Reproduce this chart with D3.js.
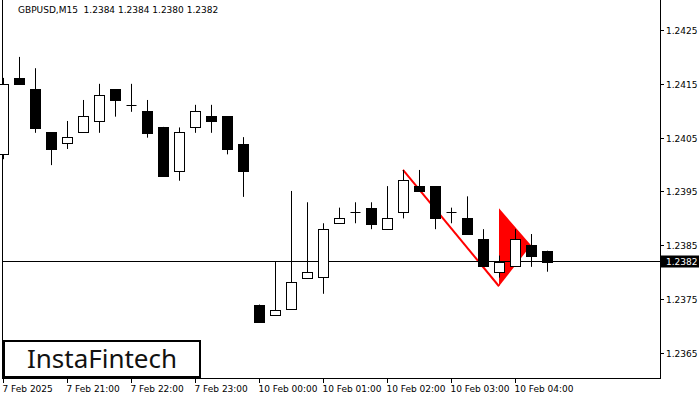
<!DOCTYPE html>
<html><head><meta charset="utf-8">
<script src="https://cdn.jsdelivr.net/npm/d3@7"></script>
<style>body{margin:0;background:#fff}svg{display:block}</style>
</head><body><svg width="700" height="400"></svg>
<script>
const opens  = [1.24020,1.24160,1.24140,1.24060,1.24039,1.24060,1.24080,1.24140,1.24111,1.24099,1.24070,1.23988,1.24069,1.24090,1.24090,1.24039,
                1.23740,1.23721,1.23730,1.23790,1.23790,1.23891,1.23910,1.23920,1.23880,1.23911,1.23960,1.23960,1.23911,1.23900,1.23861,1.23801,1.23810,1.23850,1.23840];
const closes = [1.24150,1.24149,1.24068,1.24029,1.24051,1.24090,1.24129,1.24119,1.24111,1.24059,1.23979,1.24060,1.24099,1.24080,1.24029,1.23989,
                1.23709,1.23730,1.23781,1.23801,1.23880,1.23900,1.23911,1.23891,1.23900,1.23971,1.23950,1.23900,1.23910,1.23870,1.23810,1.23819,1.23861,1.23830,1.23820];
const highs  = [1.24161,1.24200,1.24179,1.24060,1.24081,1.24120,1.24150,1.24140,1.24150,1.24120,1.24070,1.24069,1.24111,1.24111,1.24090,1.24051,
                1.23740,1.23819,1.23951,1.23930,1.23891,1.23920,1.23930,1.23930,1.23960,1.23990,1.23990,1.23960,1.23920,1.23941,1.23880,1.23831,1.23880,1.23871,1.23840];
const lows   = [1.24010,1.24149,1.24059,1.23999,1.24029,1.24060,1.24059,1.24089,1.24098,1.24050,1.23979,1.23970,1.24059,1.24059,1.24019,1.23940,
                1.23709,1.23721,1.23730,1.23790,1.23760,1.23891,1.23891,1.23880,1.23880,1.23900,1.23950,1.23880,1.23891,1.23870,1.23810,1.23790,1.23810,1.23810,1.23801];
const priceTicks = [1.2425,1.2415,1.2405,1.2395,1.2385,1.2375,1.2365];
const timeTickIdx = [0,4,8,12,16,20,24,28,32];
const timeTickLabels = ["7 Feb 2025","7 Feb 21:00","7 Feb 22:00","7 Feb 23:00","10 Feb 00:00","10 Feb 01:00","10 Feb 02:00","10 Feb 03:00","10 Feb 04:00"];
const lastPrice = 1.2382;
const title = "GBPUSD,M15  1.2384 1.2384 1.2380 1.2382";
const poleIdx = [25, 31], polePrice = [1.23990, 1.23774];
const flagIdx = [31, 31, 33], flagPrice = [1.23774, 1.23919, 1.23850];

const svg = d3.select("svg");
const x = d3.scaleLinear().domain([0, 41]).range([3, 659]);
const y = d3.scaleLinear().domain([1.2425, 1.2365]).range([30, 353]);
const L = 2, R = 660, B = 378;
const font = "Tahoma, 'DejaVu Sans', sans-serif";

// frame
svg.append("line").attr("x1",L+0.5).attr("x2",L+0.5).attr("y1",0).attr("y2",B).attr("stroke","#000");
svg.append("line").attr("x1",L).attr("x2",R).attr("y1",B+0.5).attr("y2",B+0.5).attr("stroke","#000");
svg.append("line").attr("x1",R+0.5).attr("x2",R+0.5).attr("y1",0).attr("y2",B+1).attr("stroke","#000");

// y axis
const yAxis = svg.append("g");
priceTicks.forEach(p=>{
  const yy = Math.round(y(p))+0.5;
  yAxis.append("line").attr("x1",R).attr("x2",R+4).attr("y1",yy).attr("y2",yy).attr("stroke","#000");
  yAxis.append("text").attr("x",666).attr("y",yy+3.5).text(p.toFixed(4)).attr("font-size",9).attr("font-family",font);
});
// x axis
timeTickIdx.forEach((i,k)=>{
  const xx = Math.round(x(i))+0.5;
  svg.append("line").attr("x1",xx).attr("x2",xx).attr("y1",B).attr("y2",B+5).attr("stroke","#000");
  svg.append("text").attr("x",xx-1).attr("y",392).text(timeTickLabels[k]).attr("font-size",9).attr("font-family",font);
});

// pattern
const flagPts = flagIdx.map((d,i)=>[x(d), y(flagPrice[i])]);
svg.append("polygon").attr("points", flagPts.map(p=>p.join(",")).join(" ")).attr("fill","#ff0000");
svg.append("line").attr("x1",x(poleIdx[0])).attr("y1",y(polePrice[0])).attr("x2",x(poleIdx[1])).attr("y2",y(polePrice[1]))
  .attr("stroke","#ff0000").attr("stroke-width",2);

// last price line
const ly = Math.round(y(lastPrice))+0.5;
svg.append("line").attr("x1",L).attr("x2",R).attr("y1",ly).attr("y2",ly).attr("stroke","#000");

// candles
const g = svg.append("g");
opens.forEach((o,i)=>{
  const c = closes[i], cx = Math.round(x(i))+0.5;
  g.append("line").attr("x1",cx).attr("x2",cx).attr("y1",y(highs[i])).attr("y2",y(lows[i])).attr("stroke","#000");
  const top = y(Math.max(o,c)), bot = y(Math.min(o,c));
  const bull = c >= o;
  if (Math.abs(bot-top) < 1) {
    g.append("line").attr("x1",cx-5).attr("x2",cx+5).attr("y1",Math.round(top)+0.5).attr("y2",Math.round(top)+0.5).attr("stroke","#000");
  } else {
    g.append("rect").attr("x",cx-5).attr("y",Math.round(top)+0.5).attr("width",10).attr("height",Math.round(bot-top))
      .attr("fill",bull?"#fff":"#000").attr("stroke","#000");
  }
});

// last price label
svg.append("rect").attr("x",R+1).attr("y",ly-6).attr("width",38).attr("height",12).attr("fill","#000");
svg.append("text").attr("x",666).attr("y",ly+3.5).text(lastPrice.toFixed(4)).attr("fill","#fff").attr("font-size",9).attr("font-family",font);

// title
svg.append("text").attr("x",18).attr("y",13).text(title).attr("font-size",9).attr("font-family",font).attr("xml:space","preserve");

// logo
svg.append("rect").attr("x",4).attr("y",341).attr("width",196).attr("height",36).attr("fill","#fff").attr("stroke","#000").attr("stroke-width",2);
svg.append("text").attr("x",102).attr("y",368).attr("text-anchor","middle").text("InstaFintech")
  .attr("font-size",26).attr("font-family","'Noto Sans', sans-serif").attr("fill","#111");
</script></body></html>
